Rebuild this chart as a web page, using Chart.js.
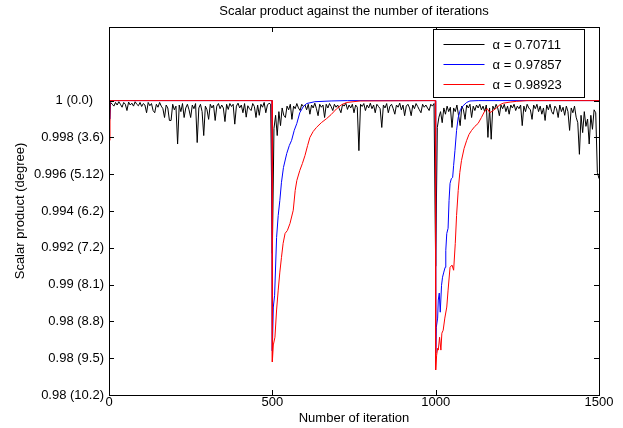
<!DOCTYPE html>
<html>
<head>
<meta charset="utf-8">
<script src="https://cdn.jsdelivr.net/npm/chart.js@4.4.1/dist/chart.umd.min.js"></script>
<style>
  html, body { margin: 0; padding: 0; background: #fff; }
  #wrap { width: 623px; height: 428px; }
</style>
</head>
<body>
<div id="wrap"><canvas id="scalarChart"></canvas></div>
<script>
// y values are in tick units: 0 = bottom tick "0.98 (10.2)", 8 = "1 (0.0)", axis top = 10
var titleText = "Scalar product against the number of iterations";
var xTitle = "Number of iteration";
var yTitle = "Scalar product (degree)";
var xTicks = [0, 500, 1000, 1500];
var yTickLabels = ["0.98 (10.2)", "0.98 (9.5)", "0.98 (8.8)", "0.99 (8.1)", "0.992 (7.2)",
                   "0.994 (6.2)", "0.996 (5.12)", "0.998 (3.6)", "1 (0.0)   "];
var seriesNames = ["\u03b1 = 0.70711", "\u03b1 = 0.97857", "\u03b1 = 0.98923"];

// black series, one value every 5 iterations (0..1500)
var blackStep = 5;
var blackVals = [
  7.2, 7.95, 7.9, 7.85, 7.95, 7.88, 7.97, 7.9, 7.82, 7.95,
  7.9, 7.73, 7.96, 7.88, 7.93, 7.85, 7.97, 7.9, 7.86, 7.95,
  7.84, 7.92, 7.88, 7.67, 7.95, 7.86, 7.92, 7.73, 7.67, 7.9,
  7.82, 7.95, 7.85, 7.78, 7.54, 7.88, 7.8, 7.46, 7.46, 7.9,
  7.75, 7.85, 6.82, 7.88, 7.7, 7.92, 7.54, 7.8, 7.9, 7.75,
  7.54, 7.88, 7.78, 7.92, 6.86, 7.8, 7.9, 7.7, 7.05, 7.85,
  7.75, 7.49, 7.9, 7.8, 7.88, 7.46, 7.85, 7.92, 7.78, 7.88,
  7.8, 7.43, 7.9, 7.76, 7.92, 7.84, 7.9, 7.36, 7.85, 7.93,
  7.8, 7.88, 7.67, 7.92, 7.55, 7.86, 7.78, 7.73, 7.92, 7.84,
  7.54, 7.88, 7.6, 7.9, 7.82, 7.95, 7.67, 7.88, 7.93, 7.9,
  3.85, 7.24, 7.6, 7.05, 7.7, 7.32, 7.8, 7.6, 7.54, 7.85,
  7.75, 7.9, 7.49, 7.85, 7.78, 7.92, 7.8, 7.73, 7.9, 7.84,
  7.88, 7.75, 7.9, 7.63, 7.88, 7.8, 7.93, 7.78, 7.59, 7.9,
  7.82, 7.88, 7.54, 7.9, 7.8, 7.92, 7.84, 7.73, 7.9, 7.82,
  7.88, 7.78, 7.67, 7.9, 7.85, 7.93, 7.76, 7.88, 7.8, 7.9,
  7.67, 7.88, 7.82, 6.64, 7.9, 7.84, 7.92, 7.73, 7.88, 7.8,
  7.93, 7.78, 7.88, 7.67, 7.9, 7.84, 7.78, 7.27, 7.88, 7.8,
  7.92, 7.67, 7.85, 7.9, 7.78, 7.63, 7.88, 7.82, 7.93, 7.75,
  7.88, 7.59, 7.85, 7.9, 7.8, 7.59, 7.88, 7.78, 7.92, 7.84,
  7.75, 7.67, 7.9, 7.82, 7.88, 7.8, 7.73, 7.9, 7.85, 7.92,
  3.5, 7.27, 7.55, 7.7, 7.4, 7.8, 7.63, 7.85, 7.7, 7.82,
  7.27, 7.8, 7.7, 7.88, 7.6, 7.32, 7.85, 7.75, 7.49, 7.88,
  7.8, 7.9, 7.54, 7.85, 7.73, 7.88, 7.8, 7.9, 7.75, 7.85,
  7.7, 7.88, 7.0, 7.8, 6.95, 7.85, 7.75, 7.9, 7.8, 7.59,
  7.88, 7.78, 7.9, 7.7, 7.85, 7.63, 7.88, 7.8, 7.9, 7.73,
  7.85, 7.78, 7.88, 7.32, 7.85, 7.7, 7.9, 7.8, 7.75, 7.49,
  7.88, 7.78, 7.9, 7.7, 7.85, 7.63, 7.8, 7.46, 7.88, 7.75,
  7.9, 7.7, 7.63, 7.85, 7.78, 7.54, 7.88, 7.7, 7.82, 7.6,
  7.85, 7.7, 7.19, 7.8, 7.67, 7.85, 7.55, 7.4, 6.54, 7.6,
  7.13, 7.7, 7.3, 7.5, 6.82, 7.6, 7.22, 7.75, 7.67, 6.05,
  5.88
];

var blueX = [0, 3, 499, 500, 503, 507, 513, 518, 523, 528,
             534, 544, 552, 559, 567, 575, 584, 595, 605, 630,
             680, 730, 999, 1000, 1002, 1006, 1008, 1011, 1014, 1018,
             1021, 1025, 1029, 1031, 1034, 1038, 1041, 1044, 1048, 1052,
             1055, 1059, 1064, 1069, 1076, 1084, 1095, 1105, 1130, 1500];
var blueY = [7.5, 8, 8, 1.2, 2.39, 2.71, 4.28, 4.88, 5.29, 5.78,
             6.18, 6.56, 6.78, 6.92, 7.19, 7.38, 7.67, 7.84, 7.92, 7.97,
             7.99, 8, 8, 1.14, 1.84, 2.09, 2.58, 2.77, 2.25, 2.98,
             3.2, 3.34, 3.47, 3.93, 4.39, 4.53, 5.29, 5.75, 5.88, 5.91,
             6.24, 6.64, 7.19, 7.54, 7.76, 7.86, 7.95, 7.99, 8, 8];

var redX = [0, 3, 499, 500, 503, 508, 513, 518, 523, 528,
            533, 539, 546, 554, 564, 570, 575, 584, 592, 600,
            608, 615, 625, 635, 650, 666, 680, 697, 712, 728,
            769, 999, 1000, 1003, 1006, 1008, 1012, 1016, 1019, 1023,
            1028, 1034, 1038, 1044, 1050, 1055, 1060, 1064, 1069, 1074,
            1079, 1087, 1095, 1102, 1110, 1120, 1130, 1140, 1151, 1158,
            1166, 1176, 1187, 1197, 1207, 1228, 1248, 1280, 1500];
var redY = [6.92, 8, 8, 0.9, 1.36, 1.57, 2.31, 2.85, 3.34, 3.74,
            4.12, 4.39, 4.47, 4.66, 5.02, 5.56, 5.83, 6.10, 6.29, 6.51,
            6.78, 7.0, 7.16, 7.27, 7.40, 7.51, 7.62, 7.78, 7.89, 7.95,
            7.99, 8, 0.68, 1.08, 1.27, 1.22, 1.57, 1.22, 1.68, 1.76,
            2.09, 2.39, 2.85, 3.47, 3.53, 3.39, 4.12, 4.88, 5.56, 6.05,
            6.37, 6.70, 6.92, 7.08, 7.19, 7.30, 7.38, 7.54, 7.73, 7.78,
            7.67, 7.73, 7.81, 7.89, 7.93, 7.96, 7.98, 8, 8];

var FONT = "'Liberation Sans', Arial, sans-serif";

function pairs(xs, ys) {
    var out = [];
    for (var i = 0; i < xs.length; i++) out.push({x: xs[i], y: ys[i]});
    return out;
}

var blackData = blackVals.map(function (v, i) { return {x: i * blackStep, y: v}; });

// frame, inward ticks on all four sides, title on top of the axes box
var matlabAxes = {
    id: 'matlabAxes',
    afterDatasetsDraw: function (chart) {
        var a = chart.chartArea, ctx = chart.ctx;
        var xs = chart.scales.x, ys = chart.scales.y;
        var tl = 5;
        ctx.save();
        ctx.strokeStyle = '#000';
        ctx.lineWidth = 1;
        ctx.beginPath();
        xTicks.forEach(function (t) {
            var px = Math.round(xs.getPixelForValue(t)) + 0.5;
            ctx.moveTo(px, a.bottom); ctx.lineTo(px, a.bottom - tl);
            ctx.moveTo(px, a.top); ctx.lineTo(px, a.top + tl);
        });
        yTickLabels.forEach(function (l, i) {
            var py = Math.round(ys.getPixelForValue(i)) + 0.5;
            ctx.moveTo(a.left, py); ctx.lineTo(a.left + tl, py);
            ctx.moveTo(a.right, py); ctx.lineTo(a.right - tl, py);
        });
        ctx.stroke();
        ctx.strokeRect(Math.round(a.left) + 0.5, Math.round(a.top) + 0.5,
                       Math.round(a.right - a.left), Math.round(a.bottom - a.top));
        ctx.fillStyle = '#000';
        ctx.font = '13px ' + FONT;
        ctx.textAlign = 'center';
        ctx.textBaseline = 'middle';
        ctx.fillText(titleText, (a.left + a.right) / 2, 11);
        ctx.restore();
    },
    afterDraw: function (chart) {
        // boxed legend in the upper right of the axes
        var a = chart.chartArea, ctx = chart.ctx;
        var bx = Math.round(a.right) - 165.5, by = Math.round(a.top) + 2.5;
        ctx.save();
        ctx.fillStyle = '#fff';
        ctx.fillRect(bx, by, 151, 68);
        ctx.strokeStyle = '#000';
        ctx.lineWidth = 1;
        ctx.strokeRect(bx, by, 151, 68);
        ctx.font = '13px ' + FONT;
        ctx.textAlign = 'left';
        ctx.textBaseline = 'middle';
        chart.data.datasets.forEach(function (ds, i) {
            var y = by + 15 + i * 20;
            ctx.strokeStyle = ds.borderColor;
            ctx.beginPath();
            ctx.moveTo(bx + 10, y); ctx.lineTo(bx + 51, y);
            ctx.stroke();
            ctx.fillStyle = '#000';
            ctx.fillText(ds.label, bx + 59, y + 1);
        });
        ctx.restore();
    }
};

var ctx = document.getElementById('scalarChart').getContext('2d');
var chart = new Chart(ctx, {
    type: 'line',
    data: {
        datasets: [
            {label: seriesNames[0], data: blackData, borderColor: '#000000', order: 2},
            {label: seriesNames[1], data: pairs(blueX, blueY), borderColor: '#0000ff', order: 1},
            {label: seriesNames[2], data: pairs(redX, redY), borderColor: '#ff0000', order: 0}
        ]
    },
    options: {
        responsive: true,
        maintainAspectRatio: false,
        animation: false,
        parsing: true,
        layout: { padding: { left: 0, right: 24, top: 27, bottom: 0 } },
        elements: {
            line: { borderWidth: 1, tension: 0 },
            point: { radius: 0 }
        },
        plugins: {
            legend: { display: false },
            title: { display: false },
            tooltip: { enabled: false }
        },
        scales: {
            x: {
                type: 'linear',
                min: 0,
                max: 1500,
                grid: { display: false, drawTicks: false },
                border: { display: false },
                afterBuildTicks: function (scale) {
                    scale.ticks = xTicks.map(function (v) { return {value: v}; });
                },
                afterFit: function (scale) { scale.height = 33; },
                ticks: {
                    color: '#000',
                    padding: 0,
                    maxRotation: 0,
                    font: { family: FONT, size: 13 },
                    callback: function (v) { return String(v); }
                },
                title: {
                    display: true,
                    text: xTitle,
                    color: '#000',
                    font: { family: FONT, size: 13 },
                    padding: { top: 0, bottom: 2 }
                }
            },
            y: {
                type: 'linear',
                min: 0,
                max: 10,
                grid: { display: false, drawTicks: false },
                border: { display: false },
                afterBuildTicks: function (scale) {
                    scale.ticks = yTickLabels.map(function (l, i) { return {value: i}; });
                },
                afterFit: function (scale) { scale.width = 109; },
                ticks: {
                    color: '#000',
                    padding: 5,
                    font: { family: FONT, size: 13 },
                    callback: function (v) { return yTickLabels[v] || ''; }
                },
                title: {
                    display: true,
                    text: yTitle,
                    color: '#000',
                    font: { family: FONT, size: 13 },
                    padding: { top: 13, bottom: 0 }
                }
            }
        }
    },
    plugins: [matlabAxes]
});
</script>
</body>
</html>
